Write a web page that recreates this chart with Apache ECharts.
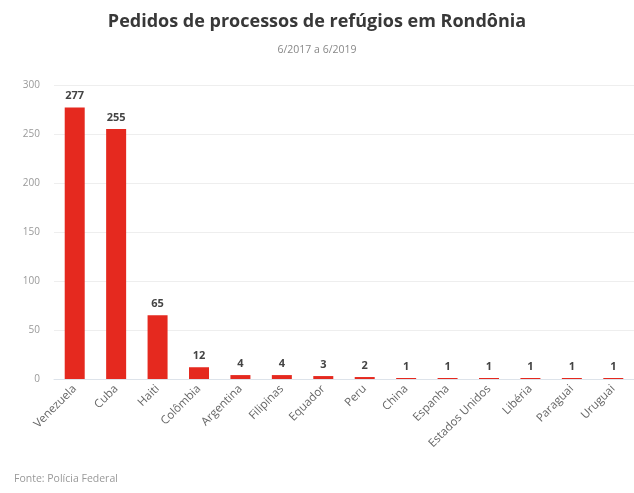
<!DOCTYPE html>
<html>
<head>
<meta charset="utf-8">
<script src="https://cdn.jsdelivr.net/npm/echarts@6/dist/echarts.min.js"></script>
<style>
html,body{margin:0;padding:0;background:#fff;}
#chart{width:634px;height:493px;}
</style>
</head>
<body>
<div id="chart"></div>
<script>
// dados
var paises = ['Venezuela', 'Cuba', 'Haiti', 'Colômbia', 'Argentina', 'Filipinas', 'Equador', 'Peru', 'China', 'Espanha', 'Estados Unidos', 'Libéria', 'Paraguai', 'Uruguai'];
var pedidos = [277, 255, 65, 12, 4, 4, 3, 2, 1, 1, 1, 1, 1, 1];
var ticksY = [0, 50, 100, 150, 200, 250, 300];

var fonte = '"Open Sans", "Noto Sans", sans-serif';
var chart = echarts.init(document.getElementById('chart'));

var option = {
    backgroundColor: '#fff',
    animation: false,
    textStyle: {fontFamily: fonte},
    title: [{
        text: 'Pedidos de processos de refúgios em Rondônia',
        subtext: '6/2017 a 6/2019',
        left: 'center',
        top: 8,
        itemGap: 14,
        textStyle: {fontFamily: fonte, fontSize: 18, fontWeight: 'bold', color: '#383838'},
        subtextStyle: {fontFamily: fonte, fontSize: 10.5, color: '#888'}
    }, {
        text: 'Fonte: Polícia Federal',
        left: 9,
        bottom: 3,
        textStyle: {fontFamily: fonte, fontSize: 10.5, fontWeight: 'normal', color: '#999'}
    }],
    grid: {left: 54, right: -8, top: 85, bottom: 114},
    xAxis: {
        type: 'category',
        data: paises,
        axisLine: {lineStyle: {color: '#dde3ea'}},
        axisTick: {lineStyle: {color: '#cfdce8'}, length: 5},
        axisLabel: {rotate: 45, fontSize: 11.5, color: '#666', margin: 8, interval: 0}
    },
    yAxis: {
        type: 'value',
        min: ticksY[0],
        max: ticksY[ticksY.length - 1],
        interval: 50,
        axisLine: {show: false},
        axisTick: {show: false},
        splitLine: {lineStyle: {color: '#eeeeee'}},
        axisLabel: {fontSize: 10, color: '#999', margin: 14}
    },
    series: [{
        type: 'bar',
        data: pedidos,
        barWidth: 20,
        itemStyle: {color: '#e5291f'},
        label: {
            show: true,
            position: 'top',
            distance: 6,
            fontSize: 11,
            fontWeight: 'bold',
            color: '#444'
        }
    }]
};
chart.setOption(option);
</script>
</body>
</html>
